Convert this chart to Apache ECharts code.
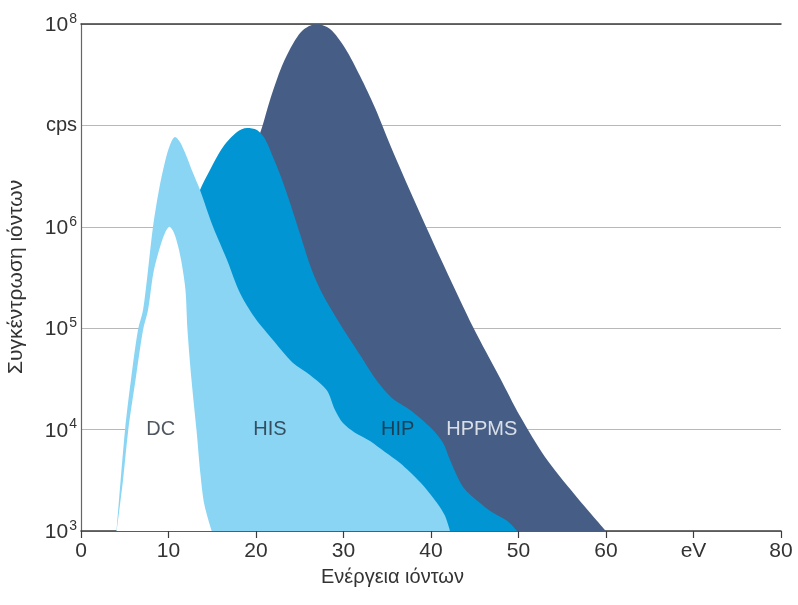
<!DOCTYPE html>
<html><head><meta charset="utf-8">
<script src="https://cdn.jsdelivr.net/npm/echarts@6/dist/echarts.min.js"></script>
<style>html,body{margin:0;padding:0;background:#fff}#c{width:798px;height:605px}</style>
</head><body><div id="c"></div>
<script>
// ---- data (ion energy in eV, ion concentration in cps) ----
const hppmsEnergy = [16, 18.5, 19.77, 20.69, 21.6, 22.74, 23.89, 25.26, 26.86, 28.46, 30.17, 31.89, 33.6, 35.43, 38.17, 41.6, 44.8, 47.89, 50.17, 53.03, 56.46, 60.0];
const hppmsCps    = [1e3, 2.6e6, 5.7e6, 9.6e6, 1.78e7, 3.44e7, 5.66e7, 8.53e7, 1e8, 8.93e7, 5.8e7, 3.07e7, 1.49e7, 6.12e6, 1.76e6, 3.93e5, 1.03e5, 3.23e4, 1.36e4, 5.37e3, 2.27e3, 1e3];

const hipEnergy = [8, 10, 11.5, 12.8, 13.6, 14.74, 16.23, 17.83, 18.97, 20.11, 21.03, 21.94, 22.86, 23.89, 25.03, 26.29, 27.66, 29.6, 31.89, 33.83, 35.66, 37.6, 39.89, 41.37, 42.17, 43.66, 45.6, 47.09, 48.69, 49.83];
const hipCps    = [1e3, 1e4, 4e5, 1.5e6, 2.31e6, 3.63e6, 6.12e6, 8.61e6, 9.43e6, 9.01e6, 7.35e6, 4.88e6, 3.1e6, 1.72e6, 8.5e5, 3.93e5, 2.12e5, 1.1e5, 5.44e4, 3.01e4, 2.0e4, 1.56e4, 1.06e4, 7.4e3, 5.01e3, 2.72e3, 1.89e3, 1.51e3, 1.26e3, 1e3];

const hisEnergy = [4.08, 5.03, 5.71, 6.51, 7.09, 7.66, 8.23, 8.91, 9.6, 10.17, 10.74, 11.31, 12.0, 12.8, 13.6, 15.09, 16.69, 18.17, 19.89, 21.94, 24.23, 26.17, 28.09, 29.03, 29.94, 31.31, 33.03, 34.74, 36.46, 38.74, 40.69, 41.6, 42.17];
const hisCps    = [1e3, 9.9e3, 3.1e4, 9.6e4, 1.51e5, 3.75e5, 1e6, 2.31e6, 4.37e6, 6.41e6, 7.69e6, 6.86e6, 5.1e6, 3.39e6, 2.31e6, 1e6, 4.71e5, 2.22e5, 1.26e5, 7.66e4, 4.54e4, 3.46e4, 2.45e4, 1.56e4, 1.16e4, 9.3e3, 7.72e3, 6.01e3, 4.68e3, 3.04e3, 1.89e3, 1.41e3, 1e3];

const dcEnergy = [4.08, 4.8, 5.41, 6.23, 7.09, 7.66, 8.29, 9.03, 9.6, 10.11, 10.63, 11.12, 11.54, 11.94, 12.17, 12.63, 13.2, 13.66, 14.11, 14.94];
const dcCps    = [1e3, 3.16e3, 1e4, 3.08e4, 9.6e4, 1.51e5, 3.58e5, 6.31e5, 8.69e5, 1e6, 8.69e5, 6.31e5, 4.2e5, 2.38e5, 9.6e4, 3.08e4, 9.9e3, 3.57e3, 1.8e3, 1e3];

const xTickValues = [0, 10, 20, 30, 40, 50, 60, 70, 80];
const xTickLabels = ['0', '10', '20', '30', '40', '50', '60', 'eV', '80'];
const yTickValues = [1e3, 1e4, 1e5, 1e6, 1e7, 1e8];
const yTickBase   = ['10', '10', '10', '10', 'cps', '10'];
const yTickExp    = ['3', '4', '5', '6', '', '8'];

const regionNames       = ['DC', 'HIS', 'HIP', 'HPPMS'];
const regionLabelEnergy = [9.1, 21.6, 36.2, 45.8];
const regionLabelCps    = [1e4, 1e4, 1e4, 1e4];

const xTitle = 'Ενέργεια ιόντων';
const yTitle = 'Συγκέντρωση ιόντων';

// ---- chart ----
const FONT = '"Liberation Sans", Arial, sans-serif';
const zip = (xs, ys) => xs.map((x, i) => [x, ys[i]]);

function areaSeries(name, xs, ys, color) {
  return {
    name, type: 'line', data: zip(xs, ys),
    smooth: 0.3, symbol: 'none',
    lineStyle: { width: 0, opacity: 0 },
    areaStyle: { color, opacity: 1, origin: 'start' },
    silent: true
  };
}

const chart = echarts.init(document.getElementById('c'), null, { renderer: 'canvas' });
chart.setOption({
  animation: false,
  backgroundColor: '#ffffff',
  textStyle: { fontFamily: FONT },
  grid: { left: 81, right: 17, top: 24, bottom: 74 },
  xAxis: [{
    type: 'value', min: 0, max: 80, interval: 10,
    axisLine: { show: true, lineStyle: { color: '#3c3c3c', width: 1.5 } },
    axisTick: { show: true, length: 7, lineStyle: { color: '#3c3c3c', width: 1.2 } },
    splitLine: { show: false },
    axisLabel: {
      fontSize: 21, color: '#333', margin: 10, fontFamily: FONT,
      formatter: v => { const i = xTickValues.indexOf(v); return i >= 0 ? xTickLabels[i] : ''; }
    }
  }, {
    type: 'value', min: 0, max: 80, position: 'top',
    axisLine: { show: true, lineStyle: { color: '#3c3c3c', width: 1.5 } },
    axisTick: { show: false }, axisLabel: { show: false }, splitLine: { show: false }
  }],
  yAxis: [{
    type: 'log', logBase: 10, min: 1e3, max: 1e8,
    axisLine: { show: false }, axisTick: { show: false },
    splitLine: { show: true, lineStyle: { color: '#b8b8b8', width: 1 } },
    axisLabel: {
      margin: 4, color: '#333', fontFamily: FONT,
      formatter: v => {
        const i = yTickValues.findIndex(t => Math.abs(Math.log10(t) - Math.log10(v)) < 1e-6);
        if (i < 0) return '';
        if (yTickExp[i] === '') return '{c|' + yTickBase[i] + '}';
        return '{b|' + yTickBase[i] + '}{s|' + yTickExp[i] + '}';
      },
      rich: {
        b: { fontSize: 21, color: '#333', fontFamily: FONT, lineHeight: 24, verticalAlign: 'bottom' },
        s: { fontSize: 14, color: '#333', fontFamily: FONT, verticalAlign: 'top', padding: [0, 0, 0, 1] },
        c: { fontSize: 20, color: '#333', fontFamily: FONT }
      }
    }
  }, {
    type: 'log', logBase: 10, min: 1e3, max: 1e8, position: 'right',
    axisLine: { show: true, lineStyle: { color: '#666', width: 1.2 } },
    axisTick: { show: false }, axisLabel: { show: false }, splitLine: { show: false }
  }],
  series: [
    areaSeries('HPPMS', hppmsEnergy, hppmsCps, '#465e86'),
    areaSeries('HIP', hipEnergy, hipCps, '#0196d3'),
    areaSeries('HIS', hisEnergy, hisCps, '#8ad5f3'),
    areaSeries('DC', dcEnergy, dcCps, '#ffffff'),
    {
      type: 'scatter', symbolSize: 0, silent: true, z: 10,
      data: regionNames.map((n, i) => ({
        value: [regionLabelEnergy[i], regionLabelCps[i]], name: n,
        label: { color: n === 'HPPMS' ? '#ffffff' : '#1f2a38' }
      })),
      label: { show: true, position: 'inside', formatter: p => p.name, fontSize: 20, fontFamily: FONT }
    }
  ],
  graphic: [
    { type: 'text', left: 321, top: 567, style: { text: xTitle, fill: '#333', font: '20px ' + FONT } },
    { type: 'text', x: 6, y: 374, rotation: Math.PI / 2,
      style: { text: yTitle, fill: '#333', font: '21px ' + FONT } }
  ]
});
</script></body></html>
